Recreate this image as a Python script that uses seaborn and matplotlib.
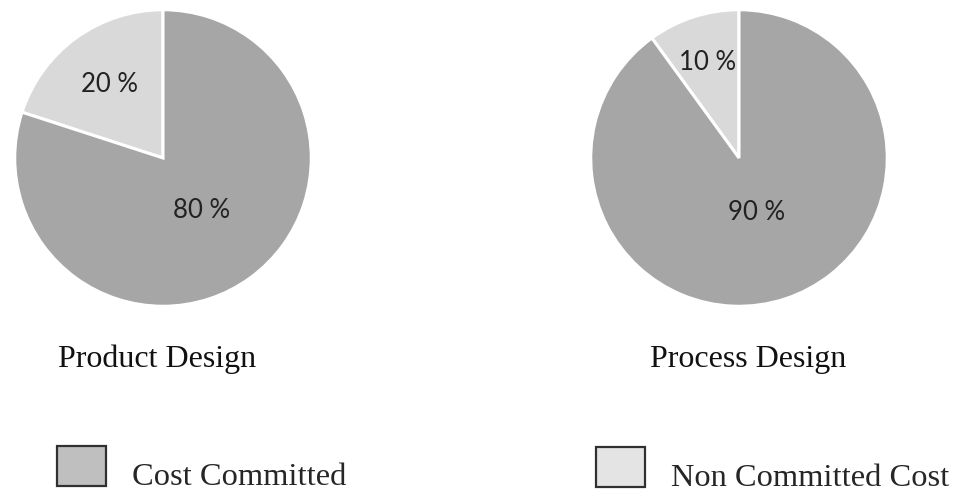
import matplotlib
matplotlib.use("Agg")
import matplotlib.pyplot as plt
from matplotlib.patches import Patch, Rectangle
from matplotlib.legend_handler import HandlerPatch
import numpy as np
import seaborn as sns

# ---- data ----
categories = ["Non Committed Cost", "Cost Committed"]
chart_titles = ["Product Design", "Process Design"]
product_values = [20, 80]
process_values = [10, 90]
value_labels = [["20 %", "80 %"], ["10 %", "90 %"]]

sns.set_theme(style="white")
plt.rcParams["font.family"] = ["Liberation Serif", "DejaVu Serif"]

W, H = 957, 495
fig = plt.figure(figsize=(W / 100, H / 100), dpi=100)

wedge_colors = {"Cost Committed": "#a6a6a6", "Non Committed Cost": "#d9d9d9"}
legend_colors = {"Cost Committed": "#bfbfbf", "Non Committed Cost": "#e4e4e4"}

# pie placement in pixels: (center x, center y, radius)
pies = [(163, 158, 149), (739, 158, 149)]
label_dist = [{"Non Committed Cost": 0.61, "Cost Committed": 0.44},
              {"Non Committed Cost": 0.68, "Cost Committed": 0.39}]
title_pos = [(157, 359), (748, 359)]

for i, vals in enumerate([product_values, process_values]):
    cx, cy, r = pies[i]
    ax = fig.add_axes([(cx - r) / W, (H - cy - r) / H, 2 * r / W, 2 * r / H])
    wedges, _ = ax.pie(vals, startangle=90, counterclock=True,
                       colors=[wedge_colors[c] for c in categories],
                       wedgeprops=dict(edgecolor="white", linewidth=2.2))
    for w, cat, lab in zip(wedges, categories, value_labels[i]):
        mid = np.deg2rad((w.theta1 + w.theta2) / 2)
        d = label_dist[i][cat]
        ax.text(d * np.cos(mid), d * np.sin(mid), lab, ha="center", va="center",
                fontsize=18.5, family=["Lato", "DejaVu Sans"], color="#222222")
    ax.set_xlim(-1.005, 1.005)
    ax.set_ylim(-1.005, 1.005)
    ax.set_aspect("equal")
    ax.axis("off")
    tx, ty = title_pos[i]
    fig.text(tx / W, 1 - ty / H, chart_titles[i], ha="center", va="center",
             fontsize=23, color="#111111")


def raised_box(legend, orig_handle, xdescent, ydescent, width, height, fontsize):
    return Rectangle((-xdescent, -ydescent + 3.6), width, 28.8)


# legends
legend_spots = {"Cost Committed": (57, 475), "Non Committed Cost": (596, 476)}
for cat in ["Cost Committed", "Non Committed Cost"]:
    x, y = legend_spots[cat]
    h = Patch(facecolor=legend_colors[cat], edgecolor="#303030", linewidth=1.6)
    fig.legend([h], [cat], loc="center left", bbox_to_anchor=(x / W, 1 - y / H),
               frameon=False, fontsize=23.4, borderpad=0, borderaxespad=0,
               handlelength=1.5, handleheight=1.2, handletextpad=0.82,
               handler_map={Patch: HandlerPatch(patch_func=raised_box)})

fig.savefig("out.png", dpi=100, facecolor="white")
